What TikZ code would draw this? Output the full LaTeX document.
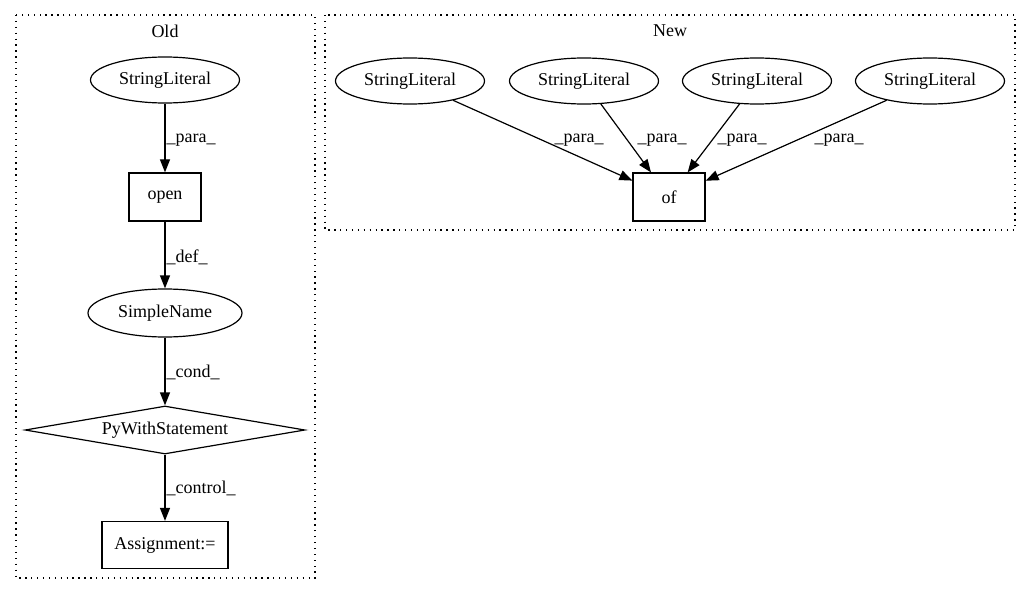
\documentclass[tikz,border=0pt]{standalone}
\usepackage{fontspec}
\setmainfont{Liberation Serif}
\usetikzlibrary{shapes.geometric,arrows.meta}
\tikzset{
  base/.style={draw=black, line width=1.2pt, inner sep=0pt, font=\fontsize{18}{20}\selectfont},
  ell/.style={base, ellipse, minimum width=149pt, minimum height=46pt},
  box/.style={base, rectangle, minimum height=48pt},
  dia/.style={base, diamond, aspect=5.8, minimum width=280pt, minimum height=48pt},
  arr/.style={line width=1.2pt, -{Triangle[length=13pt, width=10pt]}},
  lbl/.style={font=\fontsize{18}{20}\selectfont, inner sep=0pt},
  cluster/.style={line width=1.3pt, dash pattern=on 1.3pt off 4.6pt},
  ttl/.style={font=\fontsize{18}{20}\selectfont, inner sep=0pt}
}
\begin{document}
\begin{tikzpicture}[x=1pt, y=-1pt]
\useasboundingbox (0,0) rectangle (1032,596);
% clusters
\draw[cluster] (16,15) rectangle (315,578);
\node[ttl] (told) at (165,31) {Old};
\draw[cluster] (325,15) rectangle (1015,230);
\node[ttl] (tnew) at (670,31) {New};
% Old nodes
\node[ell] (os) at (165,80) {StringLiteral};
\node[box, minimum width=72pt] (open) at (165,197) {open};
\node[ell, minimum width=154pt, minimum height=48pt] (sn) at (165,313) {SimpleName};
\node[dia] (pw) at (165,430) {PyWithStatement};
\node[box, minimum width=126pt, minimum height=47pt] (asg) at (165,545) {Assignment:=};
\draw[arr] (os) -- (open) node[lbl, anchor=west, at={(166,140)}] {\_para\_};
\draw[arr] (open) -- (sn) node[lbl, anchor=west, at={(166,257)}] {\_def\_};
\draw[arr] (sn) -- (pw) node[lbl, anchor=west, at={(166,372)}] {\_cond\_};
\draw[arr] (pw) -- (asg) node[lbl, anchor=west, at={(166,488)}] {\_control\_};
% New nodes
\node[ell] (n1) at (410,81) {StringLiteral};
\node[ell] (n2) at (584,81) {StringLiteral};
\node[ell] (n3) at (757,81) {StringLiteral};
\node[ell] (n4) at (930,81) {StringLiteral};
\node[box, minimum width=72pt] (of) at (669,197) {of};
\draw[arr] (n1) -- (of) node[lbl, at={(579,140)}] {\_para\_};
\draw[arr] (n2) -- (of) node[lbl, at={(662,140)}] {\_para\_};
\draw[arr] (n3) -- (of) node[lbl, at={(742,140)}] {\_para\_};
\draw[arr] (n4) -- (of) node[lbl, at={(839,140)}] {\_para\_};
\end{tikzpicture}
\end{document}
